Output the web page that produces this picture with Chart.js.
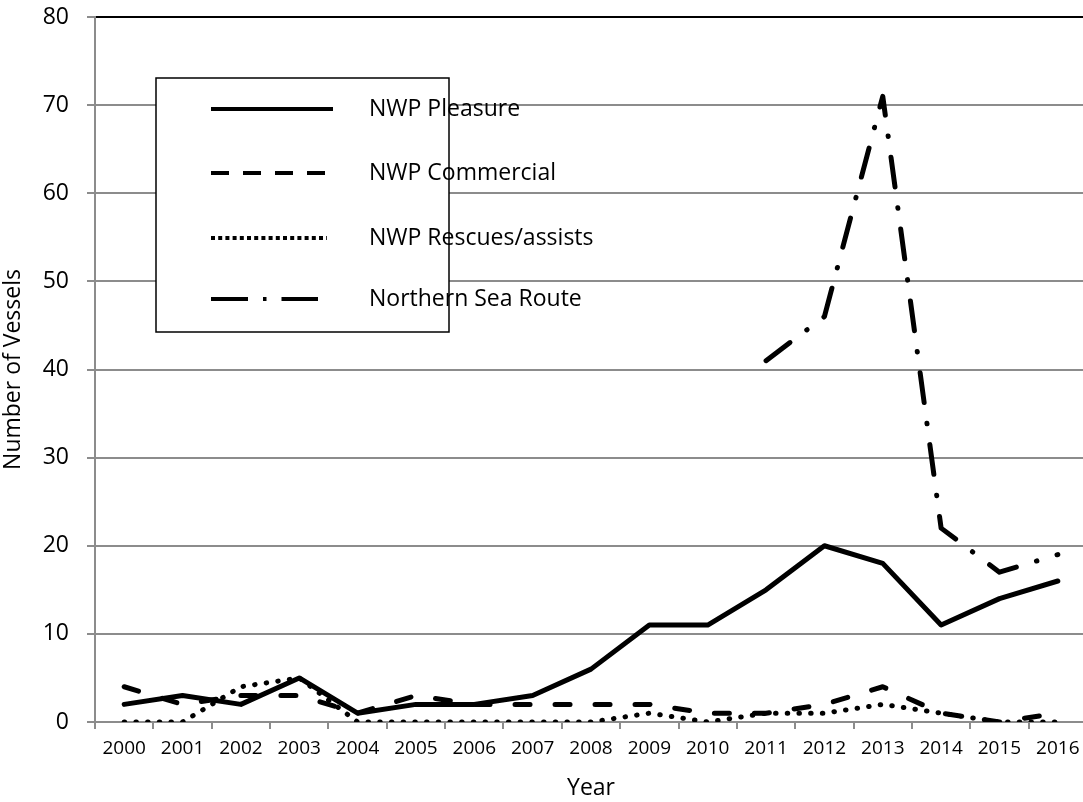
<!DOCTYPE html>
<html>
<head>
<meta charset="utf-8">
<script src="https://cdn.jsdelivr.net/npm/chart.js@4"></script>
<style>
  html, body { margin: 0; padding: 0; background: #fff; overflow: hidden; }
  #wrap { width: 1088px; height: 802px; }
</style>
</head>
<body>
<div id="wrap"><canvas id="myChart" width="1088" height="802"></canvas></div>
<script>
const years = ['2000', '2001', '2002', '2003', '2004', '2005', '2006', '2007', '2008',
               '2009', '2010', '2011', '2012', '2013', '2014', '2015', '2016'];
const nwpPleasure   = [2, 3, 2, 5, 1, 2, 2, 3, 6, 11, 11, 15, 20, 18, 11, 14, 16];
const nwpCommercial = [4, 2, 3, 3, 1, 3, 2, 2, 2, 2, 1, 1, 2, 4, 1, 0, 1];
const nwpRescues    = [0, 0, 4, 5, 0, 0, 0, 0, 0, 1, 0, 1, 1, 2, 1, 0, 0];
const northernSeaRoute = [null, null, null, null, null, null, null, null, null, null, null,
                          41, 46, 71, 22, 17, 19];
const yTicks = [0, 10, 20, 30, 40, 50, 60, 70, 80];

const FONT = "'Open Sans', 'Noto Sans', sans-serif";
const GRID = '#8c8c8c';
const ctx = document.getElementById('myChart').getContext('2d');

// legend box drawn by hand, Excel style, inside the plot
const boxLegend = {
    id: 'boxLegend',
    afterDraw(chart) {
        const c = chart.ctx;
        const rows = [109, 173, 238, 299];
        c.save();
        c.fillStyle = '#fff';
        c.fillRect(156, 78, 293, 254);
        c.strokeStyle = '#000';
        c.lineWidth = 1.5;
        c.strokeRect(156, 78, 293, 254);
        chart.data.datasets.forEach((ds, i) => {
            const y = rows[i];
            c.beginPath();
            c.setLineDash(ds.legendDash);
            c.lineCap = 'butt';
            c.lineWidth = 4;
            c.strokeStyle = '#000';
            c.moveTo(211, y);
            c.lineTo(ds.legendEnd, y);
            c.stroke();
            c.setLineDash([]);
            c.fillStyle = '#000';
            c.font = '23px ' + FONT;
            c.textBaseline = 'middle';
            c.textAlign = 'left';
            c.fillText(ds.label, 369, y);
        });
        c.restore();
    }
};

const lineStyle = {
    borderColor: '#000',
    backgroundColor: '#000',
    borderWidth: 5,
    pointRadius: 0,
    pointHoverRadius: 0,
    tension: 0,
    fill: false,
    borderCapStyle: 'round',
    borderJoinStyle: 'round',
    spanGaps: false
};

new Chart(ctx, {
    type: 'line',
    data: {
        labels: years,
        datasets: [
            { ...lineStyle, label: 'NWP Pleasure', data: nwpPleasure,
              borderDash: [], legendDash: [], legendEnd: 333 },
            { ...lineStyle, label: 'NWP Commercial', data: nwpCommercial,
              borderDash: [15, 25], legendDash: [18, 14], legendEnd: 333 },
            { ...lineStyle, label: 'NWP Rescues/assists', data: nwpRescues,
              borderDash: [0.5, 11.2], legendDash: [4, 3.2], legendEnd: 327 },
            { ...lineStyle, label: 'Northern Sea Route', data: northernSeaRoute,
              borderDash: [30, 21, 0.5, 21], legendDash: [37, 15, 3.5, 15], legendEnd: 318 }
        ]
    },
    options: {
        responsive: false,
        animation: false,
        layout: { padding: { top: 17, right: 1, left: 0, bottom: 0 } },
        plugins: {
            legend: { display: false },
            tooltip: { enabled: false }
        },
        scales: {
            x: {
                type: 'category',
                offset: true,
                afterFit: (scale) => { scale.height = 80; scale.paddingLeft = 0; scale.paddingRight = 0; },
                grid: {
                    display: true,
                    offset: true,
                    drawOnChartArea: false,
                    drawTicks: true,
                    tickLength: 7,
                    color: GRID,
                    lineWidth: 2
                },
                border: { display: true, color: GRID, width: 2 },
                ticks: {
                    color: '#000',
                    font: { family: FONT, size: 19 },
                    padding: 8,
                    maxRotation: 0,
                    autoSkip: false
                },
                title: {
                    display: true,
                    text: 'Year',
                    color: '#000',
                    font: { family: FONT, size: 23 },
                    padding: { top: 0, bottom: 0 }
                }
            },
            y: {
                min: 0,
                max: 80,
                afterFit: (scale) => { scale.width = 95; scale.paddingTop = 0; scale.paddingBottom = 0; },
                afterBuildTicks: (scale) => { scale.ticks = yTicks.map(v => ({ value: v })); },
                grid: {
                    color: (c) => (c.tick && c.tick.value === 80 ? '#000' : GRID),
                    tickColor: GRID,
                    lineWidth: 2,
                    drawTicks: true,
                    tickLength: 8
                },
                border: { display: true, color: GRID, width: 2 },
                ticks: {
                    color: '#000',
                    font: { family: FONT, size: 23 },
                    padding: 18
                },
                title: {
                    display: true,
                    text: 'Number of Vessels',
                    color: '#000',
                    font: { family: FONT, size: 23 },
                    padding: { top: 0, bottom: 0 }
                }
            }
        }
    },
    plugins: [boxLegend]
});
</script>
</body>
</html>
